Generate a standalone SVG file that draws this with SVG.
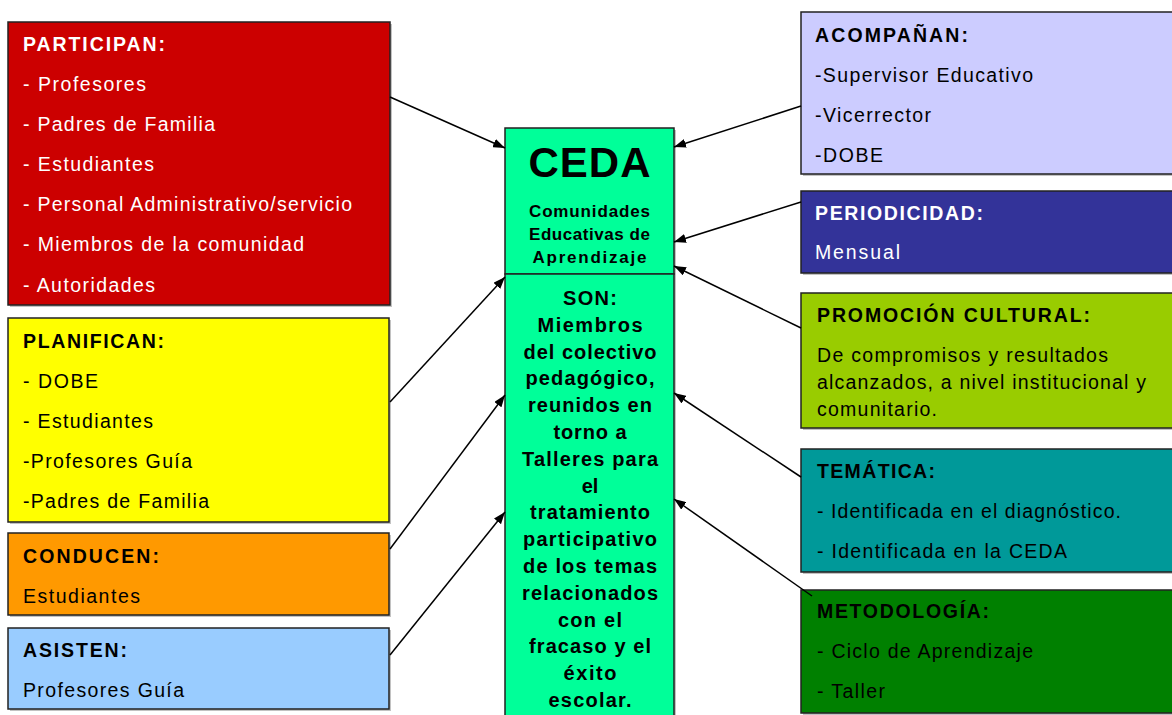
<svg xmlns="http://www.w3.org/2000/svg" width="1172" height="715" viewBox="0 0 1172 715">
<defs>
<marker id="ah" markerWidth="12" markerHeight="9" refX="12" refY="4.5" orient="auto" markerUnits="userSpaceOnUse">
<path d="M0,0 L12,4.5 L0,9 Z" fill="#000"/>
</marker>
</defs>
<style>
.box{stroke:#222;stroke-width:1.5}
.sh{fill:#9a9a9a;opacity:0.6}
text{font-family:"Liberation Sans",Arial,sans-serif;font-size:19.5px}
.h{font-weight:bold}
.w{fill:#fff}
.k{fill:#000}
.c{text-anchor:middle;font-weight:bold}
.s{font-size:20px}
.m{font-size:17px}
.con{stroke:#000;stroke-width:1.5;fill:none;marker-end:url(#ah)}
</style>
<rect width="1172" height="715" fill="#fff"/>

<g id="participan">
<rect class="sh" x="10" y="24" width="382" height="283"/>
<rect class="box" x="8" y="22" width="382" height="283" fill="#CC0000"/>
<text class="h w" x="23" y="51" textLength="142" lengthAdjust="spacing">PARTICIPAN:</text>
<text class="w" x="23" y="91" textLength="123" lengthAdjust="spacing">- Profesores</text>
<text class="w" x="23" y="131" textLength="192" lengthAdjust="spacing">- Padres de Familia</text>
<text class="w" x="23" y="171" textLength="131" lengthAdjust="spacing">- Estudiantes</text>
<text class="w" x="23" y="211" textLength="329" lengthAdjust="spacing">- Personal Administrativo/servicio</text>
<text class="w" x="23" y="251" textLength="281" lengthAdjust="spacing">- Miembros de la comunidad</text>
<text class="w" x="23" y="292" textLength="132" lengthAdjust="spacing">- Autoridades</text>
</g>

<g id="planifican">
<rect class="sh" x="10" y="320" width="381" height="204"/>
<rect class="box" x="8" y="318" width="381" height="204" fill="#FFFF00"/>
<text class="h k" x="23" y="348" textLength="141" lengthAdjust="spacing">PLANIFICAN:</text>
<text class="k" x="23" y="388" textLength="75" lengthAdjust="spacing">- DOBE</text>
<text class="k" x="23" y="428" textLength="130" lengthAdjust="spacing">- Estudiantes</text>
<text class="k" x="23" y="468" textLength="169" lengthAdjust="spacing">-Profesores Guía</text>
<text class="k" x="23" y="508" textLength="186" lengthAdjust="spacing">-Padres de Familia</text>
</g>

<g id="conducen">
<rect class="sh" x="10" y="535" width="381" height="82"/>
<rect class="box" x="8" y="533" width="381" height="82" fill="#FF9900"/>
<text class="h k" x="23" y="563" textLength="136" lengthAdjust="spacing">CONDUCEN:</text>
<text class="k" x="23" y="603" textLength="117" lengthAdjust="spacing">Estudiantes</text>
</g>

<g id="asisten">
<rect class="sh" x="10" y="630" width="381" height="81"/>
<rect class="box" x="8" y="628" width="381" height="81" fill="#99CCFF"/>
<text class="h k" x="23" y="657" textLength="104" lengthAdjust="spacing">ASISTEN:</text>
<text class="k" x="23" y="697" textLength="161" lengthAdjust="spacing">Profesores Guía</text>
</g>

<g id="ceda">
<rect class="sh" x="507" y="130" width="169" height="600"/>
<rect class="box" x="505" y="128" width="169" height="146" fill="#00FF99"/>
<rect class="box" x="505" y="274" width="169" height="450" fill="#00FF99"/>
<text class="c k" x="589.5" y="177" style="font-size:42px" textLength="122" lengthAdjust="spacing">CEDA</text>
<text class="c k m" x="589.5" y="217" textLength="121" lengthAdjust="spacing">Comunidades</text>
<text class="c k m" x="589.5" y="240" textLength="121" lengthAdjust="spacing">Educativas de</text>
<text class="c k m" x="589.5" y="263" textLength="114" lengthAdjust="spacing">Aprendizaje</text>
<text class="c k s" x="590" y="305" textLength="54" lengthAdjust="spacing">SON:</text>
<text class="c k s" x="590" y="332" textLength="105" lengthAdjust="spacing">Miembros</text>
<text class="c k s" x="590" y="358.5" textLength="133" lengthAdjust="spacing">del colectivo</text>
<text class="c k s" x="590" y="385.3" textLength="129" lengthAdjust="spacing">pedagógico,</text>
<text class="c k s" x="590" y="412" textLength="124" lengthAdjust="spacing">reunidos en</text>
<text class="c k s" x="590" y="439" textLength="73" lengthAdjust="spacing">torno a</text>
<text class="c k s" x="590" y="465.8" textLength="136" lengthAdjust="spacing">Talleres para</text>
<text class="c k s" x="590" y="492.6">el</text>
<text class="c k s" x="590" y="519.4" textLength="120" lengthAdjust="spacing">tratamiento</text>
<text class="c k s" x="590" y="546.2" textLength="134" lengthAdjust="spacing">participativo</text>
<text class="c k s" x="590" y="573" textLength="134" lengthAdjust="spacing">de los temas</text>
<text class="c k s" x="590" y="599.8" textLength="136" lengthAdjust="spacing">relacionados</text>
<text class="c k s" x="590" y="626.6" textLength="64" lengthAdjust="spacing">con el</text>
<text class="c k s" x="590" y="653.4" textLength="122" lengthAdjust="spacing">fracaso y el</text>
<text class="c k s" x="590" y="680.2" textLength="53" lengthAdjust="spacing">éxito</text>
<text class="c k s" x="590" y="707" textLength="83" lengthAdjust="spacing">escolar.</text>
</g>

<g id="acompanan">
<rect class="sh" x="803" y="14" width="380" height="162"/>
<rect class="box" x="801" y="12" width="380" height="162" fill="#CCCCFF"/>
<text class="h k" x="815" y="42" textLength="153" lengthAdjust="spacing">ACOMPAÑAN:</text>
<text class="k" x="815" y="82" textLength="218" lengthAdjust="spacing">-Supervisor Educativo</text>
<text class="k" x="815" y="122" textLength="116" lengthAdjust="spacing">-Vicerrector</text>
<text class="k" x="815" y="162" textLength="68" lengthAdjust="spacing">-DOBE</text>
</g>

<g id="periodicidad">
<rect class="sh" x="803" y="193" width="380" height="82"/>
<rect class="box" x="801" y="191" width="380" height="82" fill="#333399"/>
<text class="h w" x="815" y="220" textLength="168" lengthAdjust="spacing">PERIODICIDAD:</text>
<text class="w" x="815" y="259" textLength="85" lengthAdjust="spacing">Mensual</text>
</g>

<g id="promocion">
<rect class="sh" x="803" y="295" width="380" height="135"/>
<rect class="box" x="801" y="293" width="380" height="135" fill="#99CC00"/>
<text class="h k" x="817" y="322" textLength="273" lengthAdjust="spacing">PROMOCIÓN CULTURAL:</text>
<text class="k" x="817" y="362" textLength="291" lengthAdjust="spacing">De compromisos y resultados</text>
<text class="k" x="817" y="389" textLength="329" lengthAdjust="spacing">alcanzados, a nivel institucional y</text>
<text class="k" x="817" y="416" textLength="120" lengthAdjust="spacing">comunitario.</text>
</g>

<g id="tematica">
<rect class="sh" x="803" y="451" width="380" height="123"/>
<rect class="box" x="801" y="449" width="380" height="123" fill="#009999"/>
<text class="h k" x="817" y="478" textLength="118" lengthAdjust="spacing">TEMÁTICA:</text>
<text class="k" x="817" y="518" textLength="304" lengthAdjust="spacing">- Identificada en el diagnóstico.</text>
<text class="k" x="817" y="558" textLength="250" lengthAdjust="spacing">- Identificada en la CEDA</text>
</g>

<g id="metodologia">
<rect class="sh" x="803" y="592" width="380" height="123"/>
<rect class="box" x="801" y="590" width="380" height="123" fill="#008000"/>
<text class="h k" x="817" y="618" textLength="172" lengthAdjust="spacing">METODOLOGÍA:</text>
<text class="k" x="817" y="658" textLength="216" lengthAdjust="spacing">- Ciclo de Aprendizaje</text>
<text class="k" x="817" y="698" textLength="68" lengthAdjust="spacing">- Taller</text>
</g>

<g id="connectors">
<line class="con" x1="390" y1="97" x2="505" y2="148"/>
<line class="con" x1="390" y1="402" x2="505" y2="277"/>
<line class="con" x1="390" y1="549" x2="505" y2="395"/>
<line class="con" x1="390" y1="655" x2="505" y2="512"/>
<line class="con" x1="801" y1="106" x2="674" y2="147"/>
<line class="con" x1="801" y1="202" x2="674" y2="242"/>
<line class="con" x1="801" y1="328" x2="674" y2="266"/>
<line class="con" x1="801" y1="477" x2="674" y2="393"/>
<line class="con" x1="812" y1="596" x2="674" y2="499"/>
</g>
</svg>
